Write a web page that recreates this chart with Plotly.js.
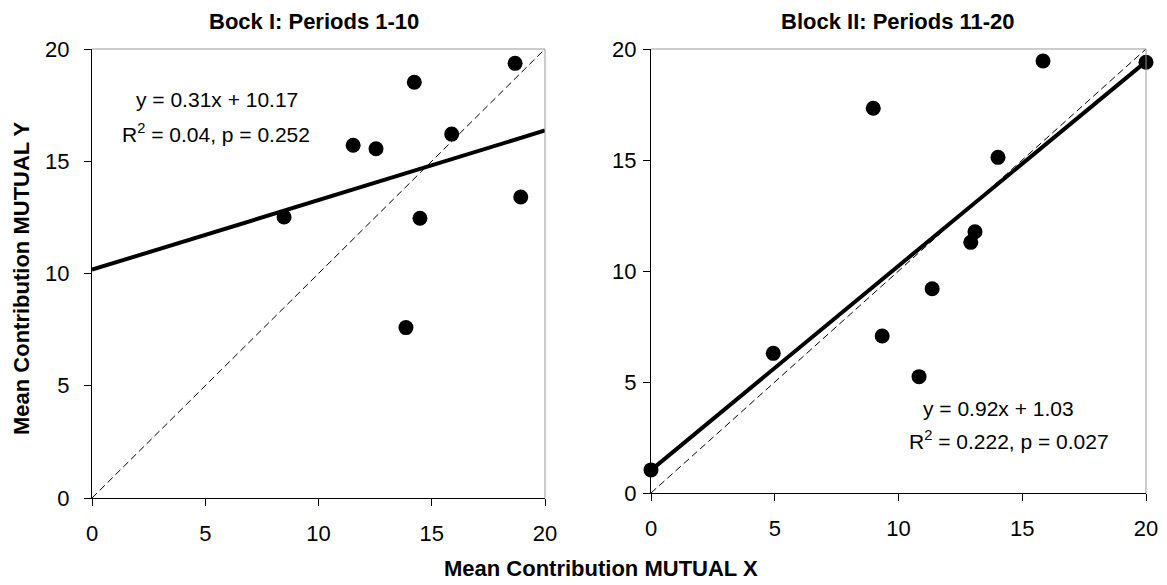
<!DOCTYPE html>
<html>
<head>
<meta charset="utf-8">
<script src="https://cdn.plot.ly/plotly-3.0.1.min.js"></script>
<style>
  html, body { margin: 0; padding: 0; background: #fff; }
  #chart { width: 1167px; height: 585px; }
</style>
</head>
<body>
<div id="chart"></div>
<script>
// ---- data ----
const panelTitles = ["Bock I: Periods 1-10", "Block II: Periods 11-20"];
const xAxisTitle = "Mean Contribution MUTUAL X";
const yAxisTitle = "Mean Contribution MUTUAL Y";
const tickVals = [0, 5, 10, 15, 20];

const block1X = [8.48, 11.53, 12.54, 14.23, 15.88, 14.48, 18.68, 18.93, 13.86];
const block1Y = [12.52, 15.71, 15.56, 18.52, 16.21, 12.46, 19.36, 13.41, 7.59];

const block2X = [0, 4.94, 8.98, 9.34, 10.83, 11.36, 12.92, 13.09, 14.02, 15.84, 20];
const block2Y = [1.04, 6.29, 17.33, 7.07, 5.24, 9.20, 11.29, 11.77, 15.12, 19.46, 19.40];

const fitSlope = [0.31, 0.92];
const fitIntercept = [10.17, 1.03];
const fitText1 = ["y = 0.31x + 10.17", "R<sup>2</sup> = 0.04, p = 0.252"];
const fitText2 = ["y = 0.92x + 1.03", "R<sup>2</sup> = 0.222, p = 0.027"];
const diagX = [0, 20];
const diagY = [0, 20];

// ---- layout helpers (pixel -> paper) ----
const W = 1167, H = 585;
const px = v => v / W;
const py = v => 1 - v / H;
const FONT = "Liberation Sans, Arial, Helvetica, sans-serif";

function fitLine(i) {
  const xs = [0, 20];
  return xs.map(x => fitSlope[i] * x + fitIntercept[i]);
}

const traces = [
  { x: diagX, y: diagY, xaxis: "x", yaxis: "y", mode: "lines",
    line: { color: "#000", width: 1, dash: "7px,4px" }, hoverinfo: "skip" },
  { x: [0, 20], y: fitLine(0), xaxis: "x", yaxis: "y", mode: "lines",
    line: { color: "#000", width: 4 }, cliponaxis: false },
  { x: block1X, y: block1Y, xaxis: "x", yaxis: "y", mode: "markers",
    marker: { color: "#000", size: 15 }, cliponaxis: false },

  { x: diagX, y: diagY, xaxis: "x2", yaxis: "y2", mode: "lines",
    line: { color: "#000", width: 1, dash: "7px,4px" }, hoverinfo: "skip" },
  { x: [0, 20], y: fitLine(1), xaxis: "x2", yaxis: "y2", mode: "lines",
    line: { color: "#000", width: 4 }, cliponaxis: false },
  { x: block2X, y: block2Y, xaxis: "x2", yaxis: "y2", mode: "markers",
    marker: { color: "#000", size: 15 }, cliponaxis: false }
];

function axisBase(extra) {
  return Object.assign({
    range: [0, 20], autorange: false, tickvals: tickVals,
    ticktext: tickVals.map(String),
    showgrid: false, zeroline: false, showline: true,
    linecolor: "#000", linewidth: 1,
    ticks: "outside", ticklen: 7, tickwidth: 1, tickcolor: "#000",
    tickfont: { family: FONT, size: 22, color: "#000" },
    fixedrange: true
  }, extra);
}

const layout = {
  width: W, height: H,
  margin: { l: 0, r: 0, t: 0, b: 0 },
  paper_bgcolor: "#fff", plot_bgcolor: "#fff",
  showlegend: false,
  font: { family: FONT, color: "#000" },
  xaxis: axisBase({ domain: [px(92), px(545)], anchor: "y", ticklabelstandoff: 9 }),
  yaxis: axisBase({ domain: [py(498), py(49)], anchor: "x", ticklabelstandoff: 10 }),
  xaxis2: axisBase({ domain: [px(651), px(1146)], anchor: "y2", ticklabelstandoff: 9 }),
  yaxis2: axisBase({ domain: [py(493), py(49)], anchor: "x2", ticklabelstandoff: 2 }),
  shapes: [
    { type: "line", xref: "x domain", yref: "y domain", x0: 0, x1: 1, y0: 1, y1: 1, line: { color: "#999", width: 1 } },
    { type: "line", xref: "x domain", yref: "y domain", x0: 1, x1: 1, y0: 0, y1: 1, line: { color: "#999", width: 1 } },
    { type: "line", xref: "x2 domain", yref: "y2 domain", x0: 0, x1: 1, y0: 1, y1: 1, line: { color: "#999", width: 1 } },
    { type: "line", xref: "x2 domain", yref: "y2 domain", x0: 1, x1: 1, y0: 0, y1: 1, line: { color: "#999", width: 1 } }
  ],
  annotations: [
    { text: "<b>" + panelTitles[0] + "</b>", xref: "paper", yref: "paper", x: px(314), y: py(22),
      xanchor: "center", yanchor: "middle", showarrow: false, font: { family: FONT, size: 22, color: "#000" } },
    { text: "<b>" + panelTitles[1] + "</b>", xref: "paper", yref: "paper", x: px(898), y: py(22),
      xanchor: "center", yanchor: "middle", showarrow: false, font: { family: FONT, size: 22, color: "#000" } },
    { text: "<b>" + xAxisTitle + "</b>", xref: "paper", yref: "paper", x: px(601), y: py(568),
      xanchor: "center", yanchor: "middle", showarrow: false, font: { family: FONT, size: 22, color: "#000" } },
    { text: "<b>" + yAxisTitle + "</b>", xref: "paper", yref: "paper", x: px(21), y: py(278),
      xanchor: "center", yanchor: "middle", textangle: -90, showarrow: false, font: { family: FONT, size: 22, color: "#000" } },

    { text: fitText1[0], xref: "paper", yref: "paper", x: px(217), y: py(99),
      xanchor: "center", yanchor: "middle", showarrow: false, font: { family: FONT, size: 21, color: "#000" } },
    { text: fitText1[1], xref: "paper", yref: "paper", x: px(216), y: py(133),
      xanchor: "center", yanchor: "middle", showarrow: false, font: { family: FONT, size: 21, color: "#000" } },
    { text: fitText2[0], xref: "paper", yref: "paper", x: px(998), y: py(408),
      xanchor: "center", yanchor: "middle", showarrow: false, font: { family: FONT, size: 21, color: "#000" } },
    { text: fitText2[1], xref: "paper", yref: "paper", x: px(1009), y: py(440),
      xanchor: "center", yanchor: "middle", showarrow: false, font: { family: FONT, size: 21, color: "#000" } }
  ]
};

Plotly.newPlot("chart", traces, layout, { staticPlot: true, displayModeBar: false });
</script>
</body>
</html>
